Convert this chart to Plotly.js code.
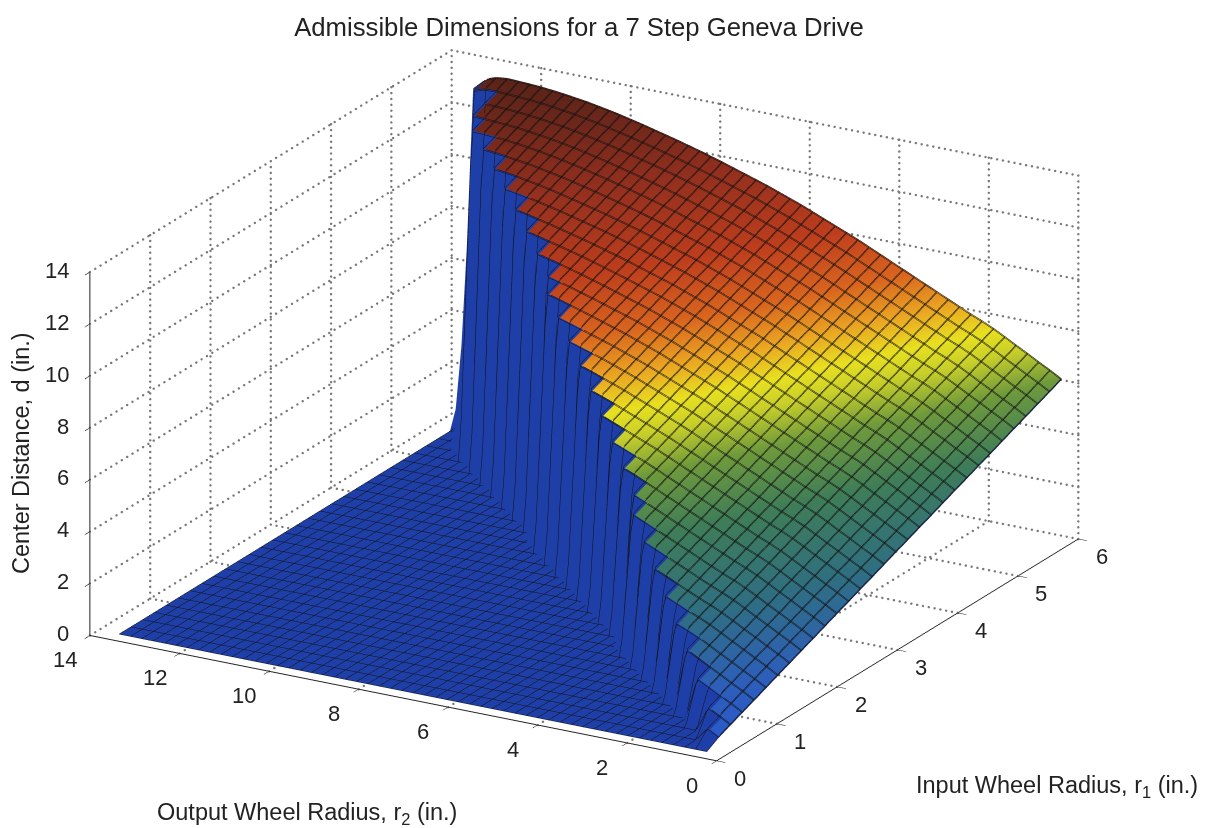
<!DOCTYPE html>
<html><head><meta charset="utf-8"><script src="https://cdn.plot.ly/plotly-3.0.1.min.js"></script>
<style>html,body{margin:0;padding:0;background:#fff}#g{width:1210px;height:828px}</style></head><body><div id="g"></div>
<script>
const r1Values=[.12,.316,.512,.708,.904,1.1,1.296,1.492,1.688,1.884,2.08,2.276,2.472,2.668,2.864,3.06,3.256,3.452,3.648,3.844,4.04,4.236,4.432,4.628,4.824,5.02,5.216,5.412,5.608,5.804,6];
const r2Values=[.38,.6325,.885,1.1375,1.39,1.6425,1.895,2.1475,2.4,2.6525,2.905,3.1575,3.41,3.6625,3.915,4.1675,4.42,4.6725,4.925,5.1775,5.43,5.6825,5.935,6.1875,6.44,6.6925,6.945,7.1975,7.45,7.7025,7.955,8.2075,8.46,8.7125,8.965,9.2175,9.47,9.7225,9.975,10.2275,10.48,10.7325,10.985,11.2375,11.49,11.7425,11.995,12.2475,12.5,12.7525,13.005,13.2575,13.51];
// Raised part of each r1 row; the rest of each row lies on the floor.
const raisedRows=[
[],
[.32,.57],
[.51,.76,.99],
[.71,.96,1.19,1.43,1.66],
[.90,1.15,1.38,1.62,1.85,2.09,2.32],
[1.10,1.35,1.58,1.82,2.05,2.29,2.52,2.72,2.90],
[1.30,1.55,1.78,2.02,2.25,2.49,2.72,2.92,3.10,3.30,3.50],
[1.49,1.74,1.97,2.21,2.44,2.68,2.91,3.11,3.29,3.49,3.69,3.89,4.09],
[1.69,1.94,2.17,2.41,2.64,2.88,3.11,3.31,3.49,3.69,3.89,4.09,4.29,4.49,4.69],
[1.88,2.13,2.36,2.60,2.83,3.07,3.30,3.50,3.68,3.88,4.08,4.28,4.48,4.68,4.88,5.08,5.28],
[2.08,2.33,2.56,2.80,3.03,3.27,3.50,3.70,3.88,4.08,4.28,4.48,4.68,4.88,5.08,5.28,5.48,5.68],
[2.28,2.53,2.76,3.00,3.23,3.47,3.70,3.90,4.08,4.28,4.48,4.68,4.88,5.08,5.28,5.48,5.68,5.88,6.08,6.26],
[2.47,2.72,2.95,3.19,3.42,3.66,3.89,4.09,4.27,4.47,4.67,4.87,5.07,5.27,5.47,5.67,5.87,6.07,6.27,6.45,6.63,6.81],
[2.67,2.92,3.15,3.39,3.62,3.86,4.09,4.29,4.47,4.67,4.87,5.07,5.27,5.47,5.67,5.87,6.07,6.27,6.47,6.65,6.83,7.01,7.19,7.37],
[2.86,3.11,3.34,3.58,3.81,4.05,4.28,4.48,4.66,4.86,5.06,5.26,5.46,5.66,5.86,6.06,6.26,6.46,6.66,6.84,7.02,7.20,7.38,7.56,7.72,7.88],
[3.06,3.31,3.54,3.78,4.01,4.25,4.48,4.68,4.86,5.06,5.26,5.46,5.66,5.86,6.06,6.26,6.46,6.66,6.86,7.04,7.22,7.40,7.58,7.76,7.92,8.08,8.24,8.38],
[3.26,3.51,3.74,3.98,4.21,4.45,4.68,4.88,5.06,5.26,5.46,5.66,5.86,6.06,6.26,6.46,6.66,6.86,7.06,7.24,7.42,7.60,7.78,7.96,8.12,8.28,8.44,8.58,8.72,8.86],
[3.45,3.70,3.93,4.17,4.40,4.64,4.87,5.07,5.25,5.45,5.65,5.85,6.05,6.25,6.45,6.65,6.85,7.05,7.25,7.43,7.61,7.79,7.97,8.15,8.31,8.47,8.63,8.77,8.91,9.05,9.19,9.32],
[3.65,3.90,4.13,4.37,4.60,4.84,5.07,5.27,5.45,5.65,5.85,6.05,6.25,6.45,6.65,6.85,7.05,7.25,7.45,7.63,7.81,7.99,8.17,8.35,8.51,8.67,8.83,8.97,9.11,9.25,9.39,9.52,9.65,9.77],
[3.84,4.09,4.32,4.56,4.79,5.03,5.26,5.46,5.64,5.84,6.04,6.24,6.44,6.64,6.84,7.04,7.24,7.44,7.64,7.82,8.00,8.18,8.36,8.54,8.70,8.86,9.02,9.16,9.30,9.44,9.58,9.71,9.84,9.96,10.08],
[4.04,4.29,4.52,4.76,4.99,5.23,5.46,5.66,5.84,6.04,6.24,6.44,6.64,6.84,7.04,7.24,7.44,7.64,7.84,8.02,8.20,8.38,8.56,8.74,8.90,9.06,9.22,9.36,9.50,9.64,9.78,9.91,10.04,10.16,10.28,10.39,10.50],
[4.24,4.49,4.72,4.96,5.19,5.43,5.66,5.86,6.04,6.24,6.44,6.64,6.84,7.04,7.24,7.44,7.64,7.84,8.04,8.22,8.40,8.58,8.76,8.94,9.10,9.26,9.42,9.56,9.70,9.84,9.98,10.11,10.24,10.36,10.48,10.59,10.70,10.81,10.91],
[4.43,4.68,4.91,5.15,5.38,5.62,5.85,6.05,6.23,6.43,6.63,6.83,7.03,7.23,7.43,7.63,7.83,8.03,8.23,8.41,8.59,8.77,8.95,9.13,9.29,9.45,9.61,9.75,9.89,10.03,10.17,10.30,10.43,10.55,10.67,10.78,10.89,11.00,11.10,11.20,11.29],
[4.63,4.88,5.11,5.35,5.58,5.82,6.05,6.25,6.43,6.63,6.83,7.03,7.23,7.43,7.63,7.83,8.03,8.23,8.43,8.61,8.79,8.97,9.15,9.33,9.49,9.65,9.81,9.95,10.09,10.23,10.37,10.50,10.63,10.75,10.87,10.98,11.09,11.20,11.30,11.40,11.49,11.57,11.65],
[4.82,5.07,5.30,5.54,5.77,6.01,6.24,6.44,6.62,6.82,7.02,7.22,7.42,7.62,7.82,8.02,8.22,8.42,8.62,8.80,8.98,9.16,9.34,9.52,9.68,9.84,10.00,10.14,10.28,10.42,10.56,10.69,10.82,10.94,11.06,11.17,11.28,11.39,11.49,11.59,11.68,11.76,11.84,11.90,11.96],
[5.02,5.27,5.50,5.74,5.97,6.21,6.44,6.64,6.82,7.02,7.22,7.42,7.62,7.82,8.02,8.22,8.42,8.62,8.82,9.00,9.18,9.36,9.54,9.72,9.88,10.04,10.20,10.34,10.48,10.62,10.76,10.89,11.02,11.14,11.26,11.37,11.48,11.59,11.69,11.79,11.88,11.96,12.04,12.10,12.16,12.21,12.25],
[5.22,5.47,5.70,5.94,6.17,6.41,6.64,6.84,7.02,7.22,7.42,7.62,7.82,8.02,8.22,8.42,8.62,8.82,9.02,9.20,9.38,9.56,9.74,9.92,10.08,10.24,10.40,10.54,10.68,10.82,10.96,11.09,11.22,11.34,11.46,11.57,11.68,11.79,11.89,11.99,12.08,12.16,12.24,12.30,12.36,12.41,12.45,12.48,12.50],
[5.41,5.66,5.89,6.13,6.36,6.60,6.83,7.03,7.21,7.41,7.61,7.81,8.01,8.21,8.41,8.61,8.81,9.01,9.21,9.39,9.57,9.75,9.93,10.11,10.27,10.43,10.59,10.73,10.87,11.01,11.15,11.28,11.41,11.53,11.65,11.76,11.87,11.98,12.08,12.18,12.27,12.35,12.43,12.49,12.55,12.60,12.64,12.67,12.69,12.71],
[5.61,5.86,6.09,6.33,6.56,6.80,7.03,7.23,7.41,7.61,7.81,8.01,8.21,8.41,8.61,8.81,9.01,9.21,9.41,9.59,9.77,9.95,10.13,10.31,10.47,10.63,10.79,10.93,11.07,11.21,11.35,11.48,11.61,11.73,11.85,11.96,12.07,12.18,12.28,12.38,12.47,12.55,12.63,12.69,12.75,12.80,12.84,12.87,12.89,12.91],
[5.80,6.05,6.28,6.52,6.75,6.99,7.22,7.42,7.60,7.80,8.00,8.20,8.40,8.60,8.80,9.00,9.20,9.40,9.60,9.78,9.96,10.14,10.32,10.50,10.66,10.82,10.98,11.12,11.26,11.40,11.54,11.67,11.80,11.92,12.04,12.15,12.26,12.37,12.47,12.57,12.66,12.74,12.82,12.88,12.94,12.99,13.03,13.06,13.08,13.10,13.08,12.95],
[6.00,6.25,6.48,6.72,6.95,7.19,7.42,7.62,7.80,8.00,8.20,8.40,8.60,8.80,9.00,9.20,9.40,9.60,9.80,9.98,10.16,10.34,10.52,10.70,10.86,11.02,11.18,11.32,11.46,11.60,11.74,11.87,12.00,12.12,12.24,12.35,12.46,12.57,12.67,12.77,12.86,12.94,13.02,13.08,13.14,13.19,13.23,13.26,13.28,13.30,13.25,13.10,12.70]
];
const r1Ticks=[0,1,2,3,4,5,6];
const r2Ticks=[0,2,4,6,8,10,12,14];
const dTicks=[0,2,4,6,8,10,12,14];
const pad=(row,v)=>row.concat(new Array(r2Values.length-row.length).fill(v));
const columns=m=>r2Values.map((_,j)=>m.map(r=>r[j]));
const fullZ=columns(raisedRows.map(r=>pad(r,0.05)));
const topZ=columns(raisedRows.map(r=>pad(r.map(v=>v+0.05),null)));
const R1=6,R2=14,D=14;
const gx=[],gy=[],gz=[];
const dots=(a,b,n)=>{for(let i=0;i<=n;i++){const f=i/n;gx.push(a[0]+(b[0]-a[0])*f);gy.push(a[1]+(b[1]-a[1])*f);gz.push(a[2]+(b[2]-a[2])*f);}};
const nR1=68,nR2=108,nD=62;
r1Ticks.filter(t=>t>0).forEach(t=>{dots([t,0,0],[t,R2,0],nR2);dots([t,R2,0],[t,R2,D],nD);});
r2Ticks.forEach(t=>{if(t>0)dots([0,t,0],[R1,t,0],nR1);dots([R1,t,0],[R1,t,D],nD);});
dTicks.forEach(t=>{dots([R1,0,t],[R1,R2,t],nR2);dots([0,R2,t],[R1,R2,t],nR1);});
const mesh={x:{show:true,start:.12,end:6.001,size:.196,color:'#111',width:3,highlight:false},
 y:{show:true,start:.38,end:13.511,size:.2525,color:'#111',width:3,highlight:false},z:{show:false,highlight:false}};
const flat={ambient:1,diffuse:0,specular:0,roughness:1,fresnel:0};
const heat=[[0,'#2a58d0'],[.1,'#2d5fb8'],[.22,'#2f6f80'],[.34,'#3f7d58'],[.43,'#6f9a3c'],[.49,'#c8cf2a'],[.53,'#e8e020'],[.58,'#eaa422'],[.64,'#d9651f'],[.72,'#bd3d1d'],[.84,'#8f2e1e'],[.94,'#5f2419'],[1,'#4a1e15']];
const traces=[
 {type:'surface',x:r1Values,y:r2Values,z:fullZ,showscale:false,hoverinfo:'skip',lighting:flat,
  colorscale:[[0,'#1f3fa8'],[1,'#1f3fa8']],cmin:0,cmax:14,contours:mesh},
 {type:'surface',x:r1Values,y:r2Values,z:topZ,showscale:false,hoverinfo:'skip',lighting:flat,
  colorscale:heat,cmin:0,cmax:14,contours:mesh},
 {type:'scatter3d',mode:'markers',x:gx,y:gy,z:gz,hoverinfo:'skip',showlegend:false,
  marker:{color:'#777',size:1.4,line:{width:0}}}
];
const ax=(vals,range)=>({range:range,autorange:false,tickvals:vals,showticklabels:false,title:{text:''},showgrid:false,zeroline:false,
 showbackground:false,showspikes:false,showline:true,linecolor:'#222',linewidth:2,ticks:'outside',ticklen:10,tickwidth:1.5,tickcolor:'#222'});
const tickFont={family:'Liberation Sans',size:22,color:'#222'};
const label=(x,y,z,v,dx,dy,anchor)=>({x:x,y:y,z:z,text:String(v),showarrow:false,xshift:dx,yshift:dy,xanchor:anchor,yanchor:'middle',font:tickFont});
const tickLabels=[
 ...r2Ticks.map(t=>label(0,t,0,t,-24,-24,'center')),
 ...r1Ticks.map(t=>label(t,0,0,t,24,-17,'center')),
 ...dTicks.map(t=>label(0,R2,t,t,-18,2,'right'))
];
const note=(text,x,y,extra)=>Object.assign({text:text,xref:'paper',yref:'paper',x:x/1210,y:1-y/828,showarrow:false,xanchor:'center',yanchor:'middle',
 font:{family:'Liberation Sans',size:23.5,color:'#222'}},extra||{});
const layout={width:1210,height:828,paper_bgcolor:'#fff',margin:{l:0,r:0,t:0,b:0},showlegend:false,
 title:{text:'Admissible Dimensions for a 7 Step Geneva Drive',x:579/1210,xanchor:'center',y:1-27/828,yanchor:'middle',font:{family:'Liberation Sans',size:25.7,color:'#222'}},
 scene:{domain:{x:[.031,.968],y:[.036,.973]},aspectmode:'manual',aspectratio:{x:1.88,y:1.86,z:1},
  camera:{projection:{type:'orthographic'},center:{x:.0231,y:-.0488,z:-.0108},up:{x:0,y:0,z:1},eye:{x:-1.816,y:-1.099,z:.781}},
  xaxis:ax(r1Ticks,[0,6]),yaxis:ax(r2Ticks,[0,14]),zaxis:ax(dTicks,[0,14]),annotations:tickLabels},
 annotations:[
  note('Center Distance, d (in.)',21,453,{textangle:-90}),
  note('Input Wheel Radius, r<sub>1</sub> (in.)',1057,786),
  note('Output Wheel Radius, r<sub>2</sub> (in.)',307,813)
 ]};
Plotly.newPlot('g',traces,layout,{displayModeBar:false,responsive:false});
</script></body></html>
